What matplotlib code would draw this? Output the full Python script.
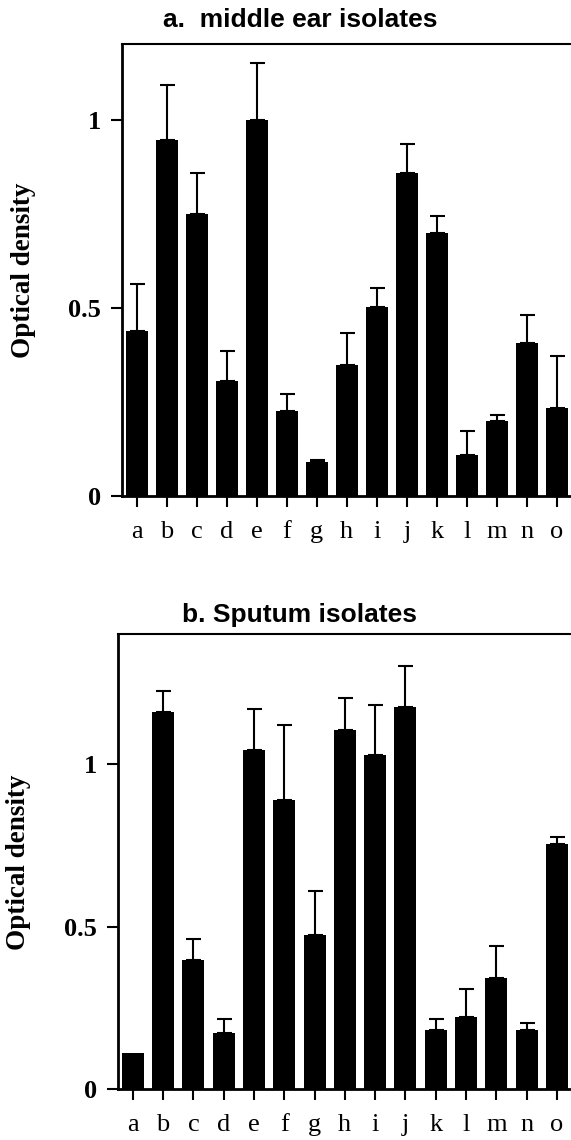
#!/usr/bin/python3
# -*- coding: utf_8 -*-

import numpy as np
import matplotlib
matplotlib.use('Agg')
import matplotlib.pyplot as plt

# isolate labels, shared by both panels
isolates = ['a', 'b', 'c', 'd', 'e', 'f', 'g', 'h', 'i', 'j', 'k', 'l', 'm', 'n', 'o']

# a. middle ear isolates: mean OD and upper error (SD)
ear_od = [0.438, 0.947, 0.749, 0.306, 0.999, 0.227, 0.090, 0.348, 0.503, 0.857, 0.700, 0.108, 0.198, 0.407, 0.235]
ear_err = [0.125, 0.144, 0.108, 0.079, 0.151, 0.043, 0.007, 0.085, 0.050, 0.078, 0.044, 0.066, 0.018, 0.074, 0.137]

# b. sputum isolates
sputum_od = [0.113, 1.161, 0.399, 0.174, 1.044, 0.889, 0.475, 1.107, 1.029, 1.175, 0.183, 0.224, 0.343, 0.183, 0.755]
sputum_err = [0.0, 0.066, 0.064, 0.044, 0.126, 0.232, 0.134, 0.097, 0.155, 0.129, 0.034, 0.085, 0.098, 0.020, 0.022]

yticks = [0, 0.5, 1]
ytick_labels = ['0', '0.5', '1']


def panel(ax, od, err, top):
    """
    Draws one bar panel with upper-only error bars
    """
    pos = np.arange(len(isolates))
    od = np.array(od)
    err = np.array(err)

    ax.bar(pos, od, 0.73, color='black', zorder=2)

    keep = err > 0
    ax.errorbar(pos[keep], od[keep], yerr=[np.zeros(keep.sum()), err[keep]],
                fmt='none', ecolor='black', elinewidth=1.5, capsize=5.4,
                capthick=1.5, zorder=3)

    ax.set_xlim(-0.5, 14.5)
    ax.set_ylim(0, top)
    ax.set_xticks(pos)
    ax.set_xticklabels(isolates, family='Liberation Serif', fontsize=19)
    ax.set_yticks(yticks)
    ax.set_yticklabels(ytick_labels, family='Liberation Serif',
                       fontsize=19, fontweight='bold')
    ax.tick_params(axis='x', direction='out', length=8, width=1.5, pad=10)
    ax.tick_params(axis='y', direction='out', length=8, width=1.5, pad=7)

    ax.spines['right'].set_visible(False)
    ax.spines['left'].set_linewidth(2)
    ax.spines['bottom'].set_linewidth(2)
    ax.spines['top'].set_linewidth(1.5)

    ax.set_ylabel('Optical density', family='Liberation Serif', fontsize=19.5,
                  fontweight='bold', va='center')
    ax.yaxis.set_label_coords(-0.218, 0.5)


def main():
    fig = plt.figure(figsize=(5.71, 11.4), dpi=100)

    ax1 = fig.add_axes([0.2131, 0.5649, 0.7887, 0.3962])
    panel(ax1, ear_od, ear_err, 1.2)

    ax2 = fig.add_axes([0.2061, 0.0443, 0.7957, 0.3993])
    panel(ax2, sputum_od, sputum_err, 1.4)

    fig.text(0.525, 0.976, 'a.  middle ear isolates', ha='center', va='baseline',
             family='Liberation Sans', fontsize=19, fontweight='bold')
    fig.text(0.525, 0.4546, 'b. Sputum isolates', ha='center', va='baseline',
             family='Liberation Sans', fontsize=19, fontweight='bold')

    fig.savefig('out.png', dpi=100)


if __name__ == '__main__':
    main()
